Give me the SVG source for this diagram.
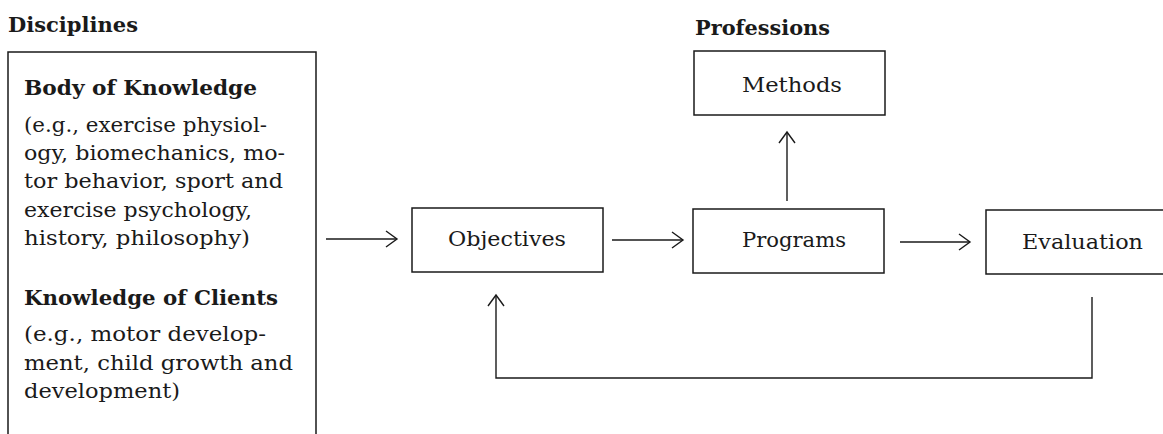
<svg xmlns="http://www.w3.org/2000/svg" width="1163" height="434" viewBox="0 0 1163 434">
  <defs>
    <style>
      .bg { fill: #ffffff; }
      .box { fill: none; stroke: #1a1a1a; stroke-width: 1.5; }
      .conn { fill: none; stroke: #1a1a1a; stroke-width: 1.4; }
      .t { font-family: "DejaVu Serif", "Liberation Serif", serif; font-size: 21px; fill: #1a1a1a; }
      .b { font-family: "DejaVu Serif", "Liberation Serif", serif; font-size: 21px; font-weight: bold; fill: #1a1a1a; }
    </style>
    <marker id="arr" markerUnits="userSpaceOnUse" markerWidth="16" markerHeight="20" refX="13" refY="9" orient="auto" overflow="visible">
      <path d="M2,1 L13,9 L2,17" fill="none" stroke="#1a1a1a" stroke-width="1.4"/>
    </marker>
  </defs>
  <rect class="bg" x="0" y="0" width="1163" height="434"/>

  <g id="disciplines">
    <text class="b" x="8" y="32" textLength="130" lengthAdjust="spacingAndGlyphs">Disciplines</text>
    <path class="box" d="M8,440 V52 H316 V440"/>
    <text class="b" x="24" y="95" textLength="233" lengthAdjust="spacingAndGlyphs">Body of Knowledge</text>
    <text class="t" x="24" y="132" textLength="243" lengthAdjust="spacingAndGlyphs">(e.g., exercise physiol-</text>
    <text class="t" x="24" y="160" textLength="261" lengthAdjust="spacingAndGlyphs">ogy, biomechanics, mo-</text>
    <text class="t" x="24" y="188" textLength="259" lengthAdjust="spacingAndGlyphs">tor behavior, sport and</text>
    <text class="t" x="24" y="216.5" textLength="228" lengthAdjust="spacingAndGlyphs">exercise psychology,</text>
    <text class="t" x="24" y="245" textLength="226" lengthAdjust="spacingAndGlyphs">history, philosophy)</text>
    <text class="b" x="24" y="305" textLength="254" lengthAdjust="spacingAndGlyphs">Knowledge of Clients</text>
    <text class="t" x="24" y="341" textLength="242" lengthAdjust="spacingAndGlyphs">(e.g., motor develop-</text>
    <text class="t" x="24" y="369.5" textLength="269" lengthAdjust="spacingAndGlyphs">ment, child growth and</text>
    <text class="t" x="24" y="398" textLength="156" lengthAdjust="spacingAndGlyphs">development)</text>
  </g>

  <g id="professions-label">
    <text class="b" x="695" y="35" textLength="135" lengthAdjust="spacingAndGlyphs">Professions</text>
  </g>

  <g id="methods">
    <rect class="box" x="694" y="51" width="191" height="64"/>
    <text class="t" x="742" y="92" textLength="100" lengthAdjust="spacingAndGlyphs">Methods</text>
  </g>

  <g id="objectives">
    <rect class="box" x="412" y="208" width="191" height="64"/>
    <text class="t" x="448" y="246" textLength="118" lengthAdjust="spacingAndGlyphs">Objectives</text>
  </g>

  <g id="programs">
    <rect class="box" x="693" y="209" width="191" height="64"/>
    <text class="t" x="742" y="247" textLength="104" lengthAdjust="spacingAndGlyphs">Programs</text>
  </g>

  <g id="evaluation">
    <path class="box" d="M1170,210 H986 V274 H1170"/>
    <text class="t" x="1022" y="249" textLength="121" lengthAdjust="spacingAndGlyphs">Evaluation</text>
  </g>

  <g id="connectors">
    <line class="conn" x1="326" y1="239" x2="397" y2="239" marker-end="url(#arr)"/>
    <line class="conn" x1="612" y1="240" x2="683" y2="240" marker-end="url(#arr)"/>
    <line class="conn" x1="900" y1="242" x2="970" y2="242" marker-end="url(#arr)"/>
    <line class="conn" x1="787" y1="201" x2="787" y2="132" marker-end="url(#arr)"/>
    <path class="conn" d="M1092,297 V378 H496 V295" marker-end="url(#arr)"/>
  </g>
</svg>
